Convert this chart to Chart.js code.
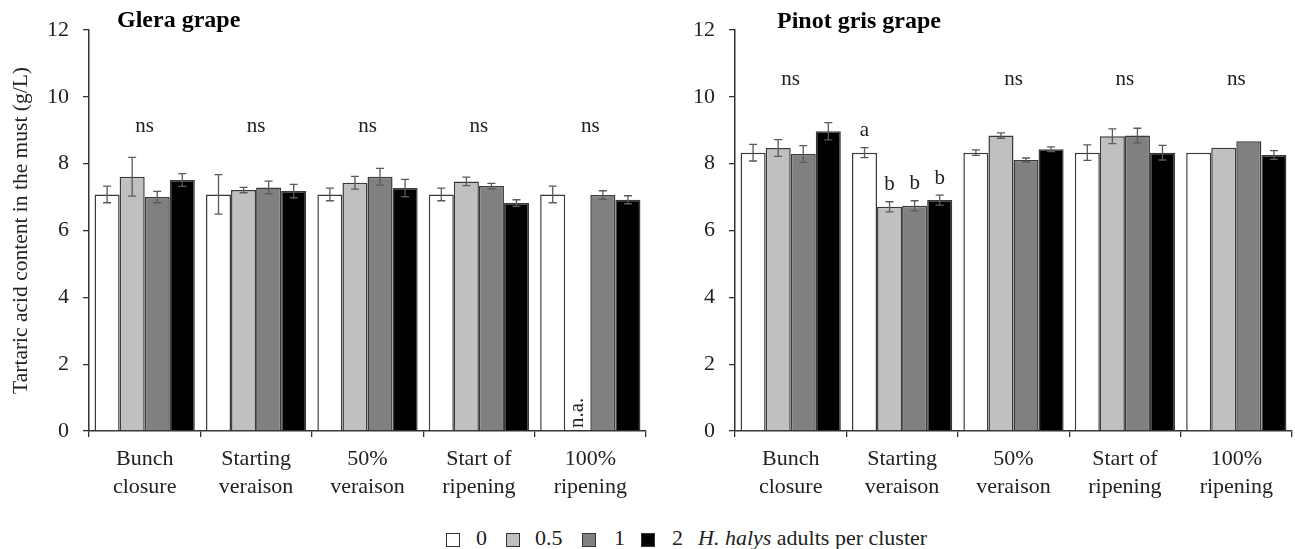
<!DOCTYPE html>
<html>
<head>
<meta charset="utf-8">
<script src="https://cdn.jsdelivr.net/npm/chart.js@4.4.1/dist/chart.umd.min.js"></script>
<style>
  html, body { margin: 0; padding: 0; background: #fff; }
  #wrap { position: relative; width: 1295px; height: 549px; font-family: "Liberation Serif", "Times New Roman", serif; color: #222; }
  #leftBox  { position: absolute; left: 0;     top: 0; width: 660px; height: 510px; }
  #rightBox { position: absolute; left: 660px; top: 0; width: 635px; height: 510px; }
  .sw { position: absolute; top: 533px; width: 14px; height: 14px; box-sizing: border-box; border: 1.5px solid #333; }
  .lb { position: absolute; top: 527px; font-size: 22px; line-height: 22px; white-space: nowrap; }
</style>
</head>
<body>
<div id="wrap">
  <div id="leftBox"><canvas id="glera"></canvas></div>
  <div id="rightBox"><canvas id="pinot"></canvas></div>
  <div id="legend"></div>
</div>
<script>
// Phenological stages (x categories)
const stages = [["Bunch", "closure"], ["Starting", "veraison"], ["50%", "veraison"], ["Start of", "ripening"], ["100%", "ripening"]];
// Infestation levels (H. halys adults per cluster)
const levels = ["0", "0.5", "1", "2"];
const levelColors = ["#ffffff", "#c0c0c0", "#808080", "#000000"];
const yTicks = [0, 2, 4, 6, 8, 10, 12];

// Glera: tartaric acid (g/L), mean and standard error
const glera0  = [7.08, 7.08, 7.08, 7.08, 7.08];
const glera05 = [7.61, 7.21, 7.43, 7.47, null];
const glera1  = [7.00, 7.29, 7.61, 7.33, 7.06];
const glera2  = [7.51, 7.18, 7.27, 6.82, 6.92];
const gleraErr0  = [0.25, 0.59, 0.19, 0.19, 0.25];
const gleraErr05 = [0.58, 0.08, 0.19, 0.13, null];
const gleraErr1  = [0.17, 0.19, 0.25, 0.08, 0.13];
const gleraErr2  = [0.19, 0.20, 0.26, 0.10, 0.12];
const gleraGroupLabels = ["ns", "ns", "ns", "ns", "ns"];

// Pinot gris: tartaric acid (g/L), mean and standard error
const pinot0  = [8.33, 8.33, 8.33, 8.33, 8.33];
const pinot05 = [8.47, 6.71, 8.84, 8.82, 8.48];
const pinot1  = [8.29, 6.74, 8.11, 8.84, 8.67];
const pinot2  = [8.97, 6.91, 8.43, 8.33, 8.26];
const pinotErr0  = [0.25, 0.15, 0.08, 0.23, 0];
const pinotErr05 = [0.25, 0.15, 0.08, 0.22, 0];
const pinotErr1  = [0.25, 0.15, 0.06, 0.22, 0];
const pinotErr2  = [0.26, 0.15, 0.07, 0.22, 0.13];
const pinotGroupLabels = ["ns", "", "ns", "ns", "ns"];
// Letters of the significance test at "Starting veraison"
const pinotLetters = [[], ["a", "b", "b", "b"], [], [], []];

const FONT = '"Liberation Serif", "Times New Roman", serif';
const INK = "#222";

// Legend row below both panels
(function buildLegend() {
  const host = document.getElementById("legend");
  const swatchX = [446, 506, 582, 641];
  const labelX = [476, 535, 614, 672];
  levels.forEach((lv, i) => {
    const sw = document.createElement("span");
    sw.className = "sw";
    sw.style.left = swatchX[i] + "px";
    sw.style.background = levelColors[i];
    host.appendChild(sw);
    const lb = document.createElement("span");
    lb.className = "lb";
    lb.style.left = labelX[i] + "px";
    lb.textContent = lv;
    host.appendChild(lb);
  });
  const unit = document.createElement("span");
  unit.className = "lb";
  unit.style.left = "698px";
  unit.innerHTML = "<i>H. halys</i> adults per cluster";
  host.appendChild(unit);
})();

// Error bars, significance letters, "n.a." marks and panel title
const annotate = {
  id: "annotate",
  afterDatasetsDraw(chart) {
    const o = chart.options.plugins.annotate;
    const ctx = chart.ctx;
    const ys = chart.scales.y, xs = chart.scales.x;
    ctx.save();
    // error bars
    chart.data.datasets.forEach((ds, i) => {
      const meta = chart.getDatasetMeta(i);
      ds.errors.forEach((e, j) => {
        const v = ds.data[j];
        if (v == null || !e) return;
        const x = meta.data[j].x;
        const yTop = ys.getPixelForValue(v + e), yBot = ys.getPixelForValue(v - e);
        ctx.strokeStyle = "#5a5a5a";
        ctx.lineWidth = 1.3;
        ctx.beginPath();
        ctx.moveTo(x, yTop); ctx.lineTo(x, yBot);
        ctx.moveTo(x - 4, yTop); ctx.lineTo(x + 4, yTop);
        ctx.moveTo(x - 4, yBot); ctx.lineTo(x + 4, yBot);
        ctx.stroke();
      });
    });
    ctx.fillStyle = INK;
    ctx.font = "21px " + FONT;
    ctx.textAlign = "center";
    ctx.textBaseline = "middle";
    // group labels
    o.groupLabels.forEach((t, j) => {
      if (!t) return;
      ctx.fillText(t, xs.getPixelForValue(j), ys.getPixelForValue(o.groupLabelY));
    });
    // per-bar letters
    (o.letters || []).forEach((arr, j) => {
      arr.forEach((t, i) => {
        const ds = chart.data.datasets[i];
        const x = chart.getDatasetMeta(i).data[j].x;
        const y = ys.getPixelForValue(ds.data[j] + (ds.errors[j] || 0)) - 17;
        ctx.fillText(t, x, y);
      });
    });
    // missing values: vertical "n.a." standing on the baseline
    const n = chart.data.datasets.length;
    const slot = (xs.width / stages.length) * 0.9 / n;
    chart.data.datasets.forEach((ds, i) => {
      ds.data.forEach((v, j) => {
        if (v != null) return;
        const x = xs.getPixelForValue(j) + (i - (n - 1) / 2) * slot;
        const y = ys.getPixelForValue(0) - 3;
        ctx.save();
        ctx.setTransform(ctx.getTransform().multiply(new DOMMatrix([0, -1, 1, 0, x, y])));
        ctx.textAlign = "left";
        ctx.textBaseline = "middle";
        ctx.font = "21px " + FONT;
        ctx.fillText("n.a.", 0, 0);
        ctx.restore();
      });
    });
    // panel title
    ctx.font = "bold 24px " + FONT;
    ctx.textAlign = "left";
    ctx.textBaseline = "alphabetic";
    ctx.fillStyle = "#000";
    ctx.fillText(o.title, chart.chartArea.left + o.titleOffset, o.titleBaseline);
    ctx.restore();
  }
};

function makeChart(id, series, errs, cfg) {
  return new Chart(document.getElementById(id), {
    type: "bar",
    data: {
      labels: stages,
      datasets: series.map((s, i) => ({
        label: levels[i],
        data: s,
        errors: errs[i],
        backgroundColor: levelColors[i],
        borderColor: "#3a3a3a",
        borderWidth: 1.5,
        categoryPercentage: 0.9,
        barPercentage: 1.0
      }))
    },
    options: {
      responsive: true,
      maintainAspectRatio: false,
      animation: false,
      layout: { padding: { top: 30, right: cfg.padRight, left: 0, bottom: 0 } },
      plugins: {
        legend: { display: false },
        tooltip: { enabled: false },
        annotate: cfg.annotate
      },
      scales: {
        x: {
          grid: { display: true, drawOnChartArea: false, offset: true, color: "#333", tickLength: 6, lineWidth: 1.3 },
          border: { display: true, color: "#333", width: 1.5 },
          ticks: { color: INK, font: { family: FONT, size: 22, lineHeight: 1.28 }, padding: 8, maxRotation: 0, autoSkip: false },
          afterFit(scale) { scale.height = 79; }
        },
        y: {
          min: 0, max: 12,
          afterBuildTicks(scale) { scale.ticks = yTicks.map(v => ({ value: v })); },
          grid: { display: true, drawOnChartArea: false, color: "#333", tickLength: 6, lineWidth: 1.3 },
          border: { display: true, color: "#333", width: 1.5 },
          ticks: { color: INK, font: { family: FONT, size: 22 }, padding: 14 },
          title: cfg.yTitle ? { display: true, text: "Tartaric acid content in the must (g/L)", color: INK, font: { family: FONT, size: 21.5 }, padding: { top: 8, bottom: 0 } } : { display: false },
          afterFit(scale) { scale.width = cfg.axisWidth; }
        }
      }
    },
    plugins: [annotate]
  });
}

makeChart("glera", [glera0, glera05, glera1, glera2], [gleraErr0, gleraErr05, gleraErr1, gleraErr2], {
  padRight: 14, axisWidth: 89, yTitle: true,
  annotate: { title: "Glera grape", titleOffset: 28, titleBaseline: 27, groupLabels: gleraGroupLabels, groupLabelY: 9.1 }
});
makeChart("pinot", [pinot0, pinot05, pinot1, pinot2], [pinotErr0, pinotErr05, pinotErr1, pinotErr2], {
  padRight: 3, axisWidth: 75, yTitle: false,
  annotate: { title: "Pinot gris grape", titleOffset: 42, titleBaseline: 28, groupLabels: pinotGroupLabels, groupLabelY: 10.53, letters: pinotLetters }
});
</script>
</body>
</html>
